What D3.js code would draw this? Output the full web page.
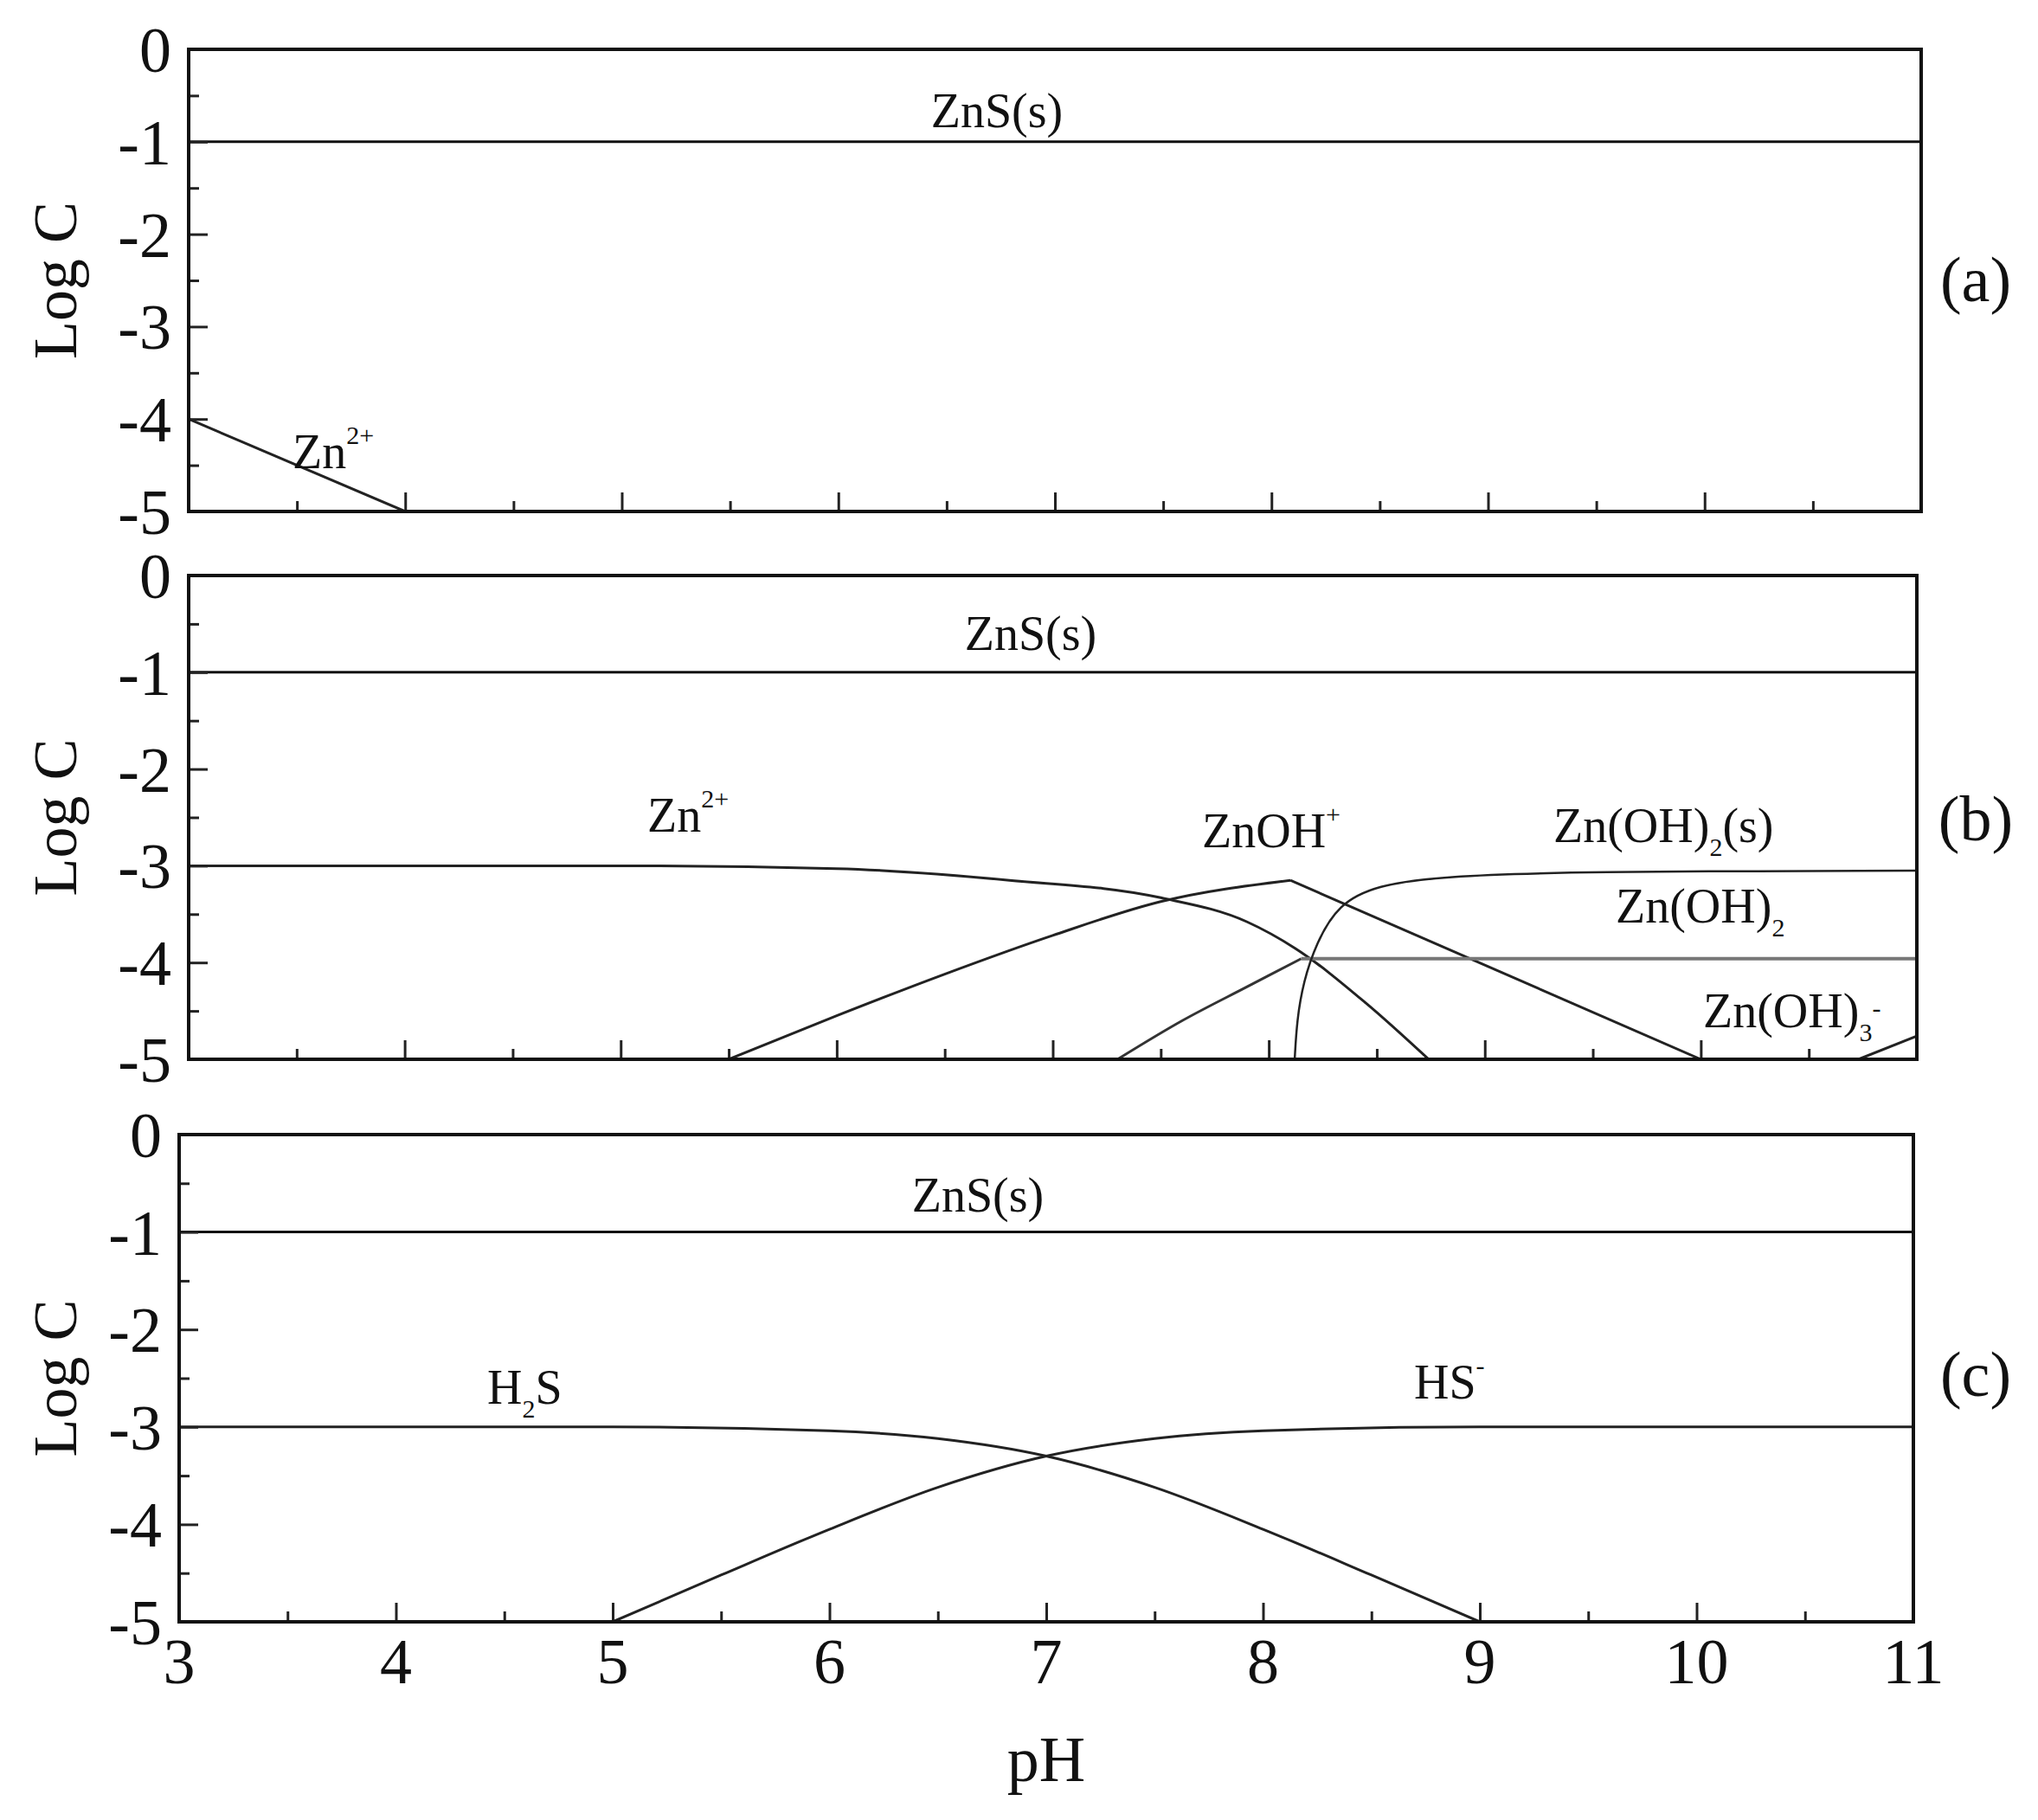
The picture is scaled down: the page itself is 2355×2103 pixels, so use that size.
<!DOCTYPE html><html><head><meta charset="utf-8">
<script src="https://cdn.jsdelivr.net/npm/d3@7"></script>
<style>body{margin:0;background:#fff}svg text{font-family:"Liberation Serif","Times New Roman",serif;fill:#111}</style>
</head><body><svg id="c" width="2355" height="2103"></svg>
<script>
const xTicks=[3,4,5,6,7,8,9,10,11];
const yTicks=[0,-1,-2,-3,-4,-5];
const znsLine=[[3,-1],[11,-1]];
const aZn2=[[3,-4],[4,-5]];
const bZn2=[[3,-3],[5,-3],[6,-3.03],[6.8,-3.15],[7.5,-3.33],[7.9,-3.58],[8.12,-3.85],[8.45,-4.42],[8.74,-5]];
const bZnOH=[[5.5,-5],[6,-4.55],[6.5,-4.12],[7,-3.72],[7.5,-3.37],[8.1,-3.15],[10,-5]];
const bZnOH2aq=[[7.3,-5],[7.6,-4.6],[7.9,-4.25],[8.15,-3.96],[11,-3.96]];
const bZnOH2s=[[8.12,-5],[8.13,-4.6],[8.16,-4.2],[8.22,-3.8],[8.32,-3.4],[8.5,-3.2],[8.8,-3.11],[9.4,-3.06],[11,-3.05]];
const bZnOH3=[[10.73,-5],[11,-4.76]];
const cH2S=[[3,-3],[5,-3],[6,-3.04],[6.5,-3.12],[7,-3.3],[7.5,-3.62],[8,-4.05],[8.5,-4.52],[9,-5]];
const cHS=[[5,-5],[5.5,-4.52],[6,-4.05],[6.5,-3.62],[7,-3.3],[7.5,-3.12],[8,-3.04],[9,-3],[11,-3]];
const svg=d3.select("#c");
const panels=[
 {l:218,r:2220,t:57,b:591,tag:"(a)",ty:323,series:[[znsLine,"#111"],[aZn2,"#222"]],
  labels:[["ZnS(s)",1152,147,"middle"],["Zn",338,541,"start","2+"]]},
 {l:218,r:2215,t:665,b:1224,tag:"(b)",ty:946,series:[[znsLine,"#111"],[bZn2,"#222"],[bZnOH,"#222"],[bZnOH2aq,"#777"],[bZnOH2s,"#222"],[bZnOH3,"#222"]],
  labels:[["ZnS(s)",1191,751,"middle"],["Zn",748,961,"start","2+"],["ZnOH",1389,979,"start","+"],["Zn(OH)",1795,973,"start",null,"2","(s)"],["Zn(OH)",1867,1066,"start",null,"2"],["Zn(OH)",1968,1187,"start","-","3"]]},
 {l:207,r:2211,t:1311,b:1874,tag:"(c)",ty:1588,series:[[znsLine,"#111"],[cH2S,"#222"],[cHS,"#222"]],
  labels:[["ZnS(s)",1130,1400,"middle"],["H",563,1622,"start",null,"2","S"],["HS",1634,1616,"start","-"]]}
];
panels.forEach((p,i)=>{
 const x=d3.scaleLinear().domain([3,11]).range([p.l,p.r]);
 const y=d3.scaleLinear().domain([-5,0]).range([p.b,p.t]);
 const g=svg.append("g");
 const mk=c=>d3.line().x(q=>x(q[0])).y(q=>y(q[1])).curve(c);
 const cl="clip"+i;
 svg.append("clipPath").attr("id",cl).append("rect").attr("x",p.l).attr("y",p.t).attr("width",p.r-p.l).attr("height",p.b-p.t);
 const draw=(d,c,curve,w)=>g.append("path").attr("d",mk(curve)(d)).attr("fill","none").attr("stroke",c).attr("stroke-width",w).attr("clip-path",`url(#${cl})`);
 p.series.forEach(([d,c])=>{
  if(d===bZnOH){draw(d.slice(0,6),c,d3.curveMonotoneX,3);draw(d.slice(5),c,d3.curveLinear,3);}
  else if(d===bZnOH2s){draw(d,c,d3.curveBasis,2.5);}
  else if(d===bZnOH2aq){draw(d.slice(0,4),"#333",d3.curveCatmullRom,3);draw(d.slice(3),c,d3.curveLinear,4);}
  else draw(d,c,d3.curveMonotoneX,3);
 });
 g.append("g").attr("transform",`translate(0,${p.b})`).call(d3.axisTop(x).tickValues(d3.range(3.5,11,1)).tickSize(12).tickFormat(""));
 g.append("g").attr("transform",`translate(0,${p.b})`).call(d3.axisTop(x).tickValues(xTicks).tickSize(22).tickFormat(""));
 g.append("g").attr("transform",`translate(${p.l},0)`).call(d3.axisRight(y).tickValues(d3.range(-4.5,0,1)).tickSize(12).tickFormat(""));
 g.append("g").attr("transform",`translate(${p.l},0)`).call(d3.axisRight(y).tickValues(yTicks).tickSize(22).tickFormat(""));
 g.selectAll(".domain").remove();
 g.selectAll(".tick line").attr("stroke","#222").attr("stroke-width",3);
 g.append("rect").attr("x",p.l).attr("y",p.t).attr("width",p.r-p.l).attr("height",p.b-p.t).attr("fill","none").attr("stroke","#111").attr("stroke-width",4);
 yTicks.forEach(v=>g.append("text").attr("x",p.l-20).attr("y",y(v)+26).attr("text-anchor","end").attr("font-size",74).text(v===0?"0":"-"+(-v)));
 g.append("text").attr("transform",`translate(88,${(p.t+p.b)/2}) rotate(-90)`).attr("text-anchor","middle").attr("font-size",72).text("Log C");
 g.append("text").attr("x",2283).attr("y",p.ty+25).attr("text-anchor","middle").attr("font-size",74).text(p.tag);
 p.labels.forEach(([t,lx,ly,anc,sup,sub,tail])=>{
  const tx=g.append("text").attr("x",lx).attr("y",ly).attr("text-anchor",anc).attr("font-size",56);
  tx.append("tspan").text(t);
  if(sub){tx.append("tspan").attr("font-size",30).attr("dy",16).text(sub);tx.append("tspan").attr("dy",-16).text(tail||"");}
  if(sup){tx.append("tspan").attr("font-size",30).attr("dy",-28).text(sup);}
 });
 if(i===2){
  xTicks.forEach(v=>g.append("text").attr("x",x(v)).attr("y",1945).attr("text-anchor","middle").attr("font-size",74).text(v));
  g.append("text").attr("x",1209).attr("y",2058).attr("text-anchor","middle").attr("font-size",74).text("pH");
 }
});
</script></body></html>
